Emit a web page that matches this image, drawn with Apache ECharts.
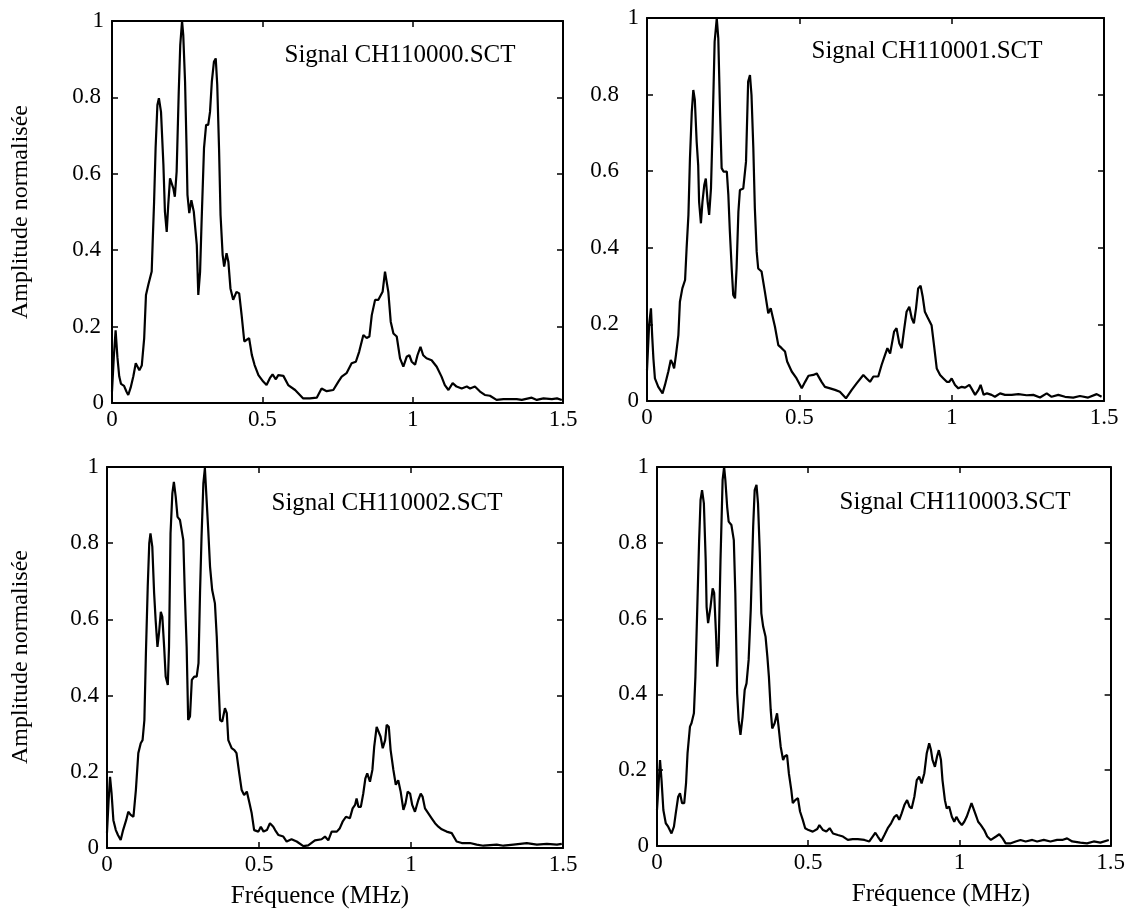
<!DOCTYPE html>
<html>
<head>
<meta charset="utf-8">
<script src="https://cdn.jsdelivr.net/npm/echarts@6/dist/echarts.min.js"></script>
<style>html,body{margin:0;padding:0;background:#fff}#c{width:1128px;height:910px}</style>
</head>
<body>
<div id="c"></div>
<script>
// ---- Data (frequency in MHz, normalised amplitude) ----
const titles = ['Signal CH110000.SCT','Signal CH110001.SCT','Signal CH110002.SCT','Signal CH110003.SCT'];
const xTicks = [0, 0.5, 1, 1.5];
const yTicks = [0, 0.2, 0.4, 0.6, 0.8, 1];
const yLabel = 'Amplitude normalisée';
const xLabel = 'Fréquence (MHz)';

const f1 = [0,0.006,0.012,0.018,0.024,0.030,0.040,0.048,0.054,0.062,0.071,0.079,0.085,0.091,0.099,0.107,0.113,0.121,0.132,0.135,0.140,0.145,0.151,0.156,0.163,0.171,0.176,0.182,0.187,0.193,0.198,0.204,0.209,0.215,0.222,0.227,0.233,0.237,0.243,0.248,0.251,0.257,0.264,0.272,0.282,0.287,0.293,0.298,0.306,0.313,0.320,0.326,0.332,0.339,0.345,0.350,0.356,0.361,0.368,0.373,0.381,0.387,0.394,0.403,0.414,0.423,0.431,0.440,0.446,0.456,0.465,0.474,0.487,0.503,0.514,0.525,0.534,0.545,0.553,0.570,0.586,0.609,0.636,0.658,0.681,0.697,0.714,0.736,0.753,0.764,0.780,0.797,0.811,0.822,0.836,0.847,0.856,0.864,0.875,0.886,0.892,0.900,0.908,0.913,0.919,0.927,0.936,0.947,0.958,0.969,0.980,0.989,0.997,1.008,1.016,1.026,1.035,1.046,1.063,1.080,1.096,1.107,1.119,1.133,1.146,1.163,1.180,1.191,1.207,1.224,1.240,1.257,1.279,1.302,1.346,1.363,1.396,1.413,1.435,1.463,1.480,1.496];
const a1 = [0.03,0.12,0.19,0.12,0.07,0.05,0.045,0.03,0.021,0.04,0.07,0.104,0.095,0.086,0.098,0.169,0.283,0.31,0.344,0.414,0.527,0.667,0.780,0.798,0.762,0.623,0.501,0.448,0.518,0.588,0.584,0.562,0.540,0.606,0.815,0.937,1.0,0.963,0.841,0.667,0.545,0.497,0.531,0.501,0.414,0.283,0.344,0.475,0.667,0.728,0.728,0.762,0.841,0.893,0.902,0.833,0.667,0.492,0.388,0.357,0.392,0.370,0.300,0.270,0.291,0.287,0.231,0.161,0.157,0.170,0.126,0.100,0.073,0.056,0.047,0.065,0.075,0.062,0.073,0.071,0.047,0.034,0.012,0.012,0.014,0.038,0.031,0.034,0.056,0.069,0.078,0.104,0.108,0.134,0.178,0.170,0.174,0.230,0.270,0.270,0.265,0.291,0.344,0.344,0.291,0.213,0.182,0.174,0.117,0.095,0.121,0.125,0.108,0.100,0.125,0.147,0.125,0.117,0.112,0.095,0.069,0.047,0.034,0.052,0.043,0.038,0.043,0.038,0.043,0.030,0.021,0.019,0.008,0.010,0.010,0.008,0.014,0.008,0.012,0.010,0.012,0.008];

const f2 = [0,0.007,0.013,0.017,0.021,0.026,0.037,0.051,0.059,0.070,0.078,0.084,0.089,0.095,0.103,0.108,0.116,0.125,0.130,0.136,0.141,0.147,0.152,0.157,0.163,0.168,0.171,0.177,0.182,0.188,0.193,0.199,0.204,0.210,0.215,0.222,0.229,0.234,0.240,0.245,0.251,0.262,0.267,0.272,0.278,0.283,0.289,0.294,0.300,0.305,0.316,0.325,0.332,0.338,0.343,0.349,0.354,0.360,0.365,0.376,0.387,0.398,0.406,0.412,0.420,0.431,0.442,0.453,0.460,0.475,0.491,0.508,0.519,0.530,0.546,0.557,0.573,0.584,0.601,0.617,0.633,0.653,0.672,0.688,0.710,0.721,0.732,0.743,0.759,0.770,0.781,0.789,0.798,0.803,0.811,0.819,0.828,0.836,0.843,0.852,0.861,0.869,0.876,0.883,0.890,0.898,0.905,0.912,0.920,0.934,0.942,0.951,0.962,0.973,0.984,0.992,1.000,1.011,1.022,1.033,1.044,1.058,1.065,1.077,1.088,1.095,1.105,1.116,1.131,1.142,1.159,1.175,1.197,1.219,1.246,1.268,1.290,1.312,1.328,1.350,1.372,1.399,1.421,1.448,1.476,1.492];
const a2 = [0.08,0.2,0.242,0.17,0.111,0.059,0.037,0.020,0.042,0.077,0.107,0.098,0.085,0.120,0.172,0.259,0.294,0.316,0.399,0.486,0.634,0.755,0.812,0.786,0.677,0.616,0.520,0.464,0.520,0.564,0.581,0.520,0.486,0.555,0.703,0.938,0.999,0.947,0.747,0.608,0.599,0.599,0.538,0.442,0.346,0.277,0.268,0.346,0.494,0.551,0.555,0.625,0.834,0.851,0.799,0.660,0.503,0.390,0.346,0.338,0.285,0.229,0.242,0.242,0.194,0.146,0.138,0.129,0.103,0.077,0.059,0.033,0.050,0.066,0.068,0.072,0.050,0.037,0.033,0.029,0.024,0.007,0.029,0.046,0.068,0.059,0.050,0.064,0.064,0.094,0.120,0.138,0.124,0.146,0.181,0.190,0.151,0.138,0.181,0.233,0.246,0.216,0.203,0.242,0.294,0.301,0.272,0.233,0.220,0.198,0.146,0.085,0.068,0.059,0.050,0.050,0.059,0.042,0.033,0.037,0.035,0.042,0.033,0.016,0.029,0.042,0.016,0.020,0.016,0.011,0.020,0.016,0.016,0.018,0.015,0.016,0.009,0.020,0.011,0.016,0.011,0.009,0.013,0.009,0.018,0.011];

const f3 = [0,0.005,0.010,0.015,0.021,0.029,0.036,0.045,0.053,0.063,0.070,0.078,0.087,0.095,0.103,0.111,0.117,0.123,0.128,0.134,0.139,0.143,0.149,0.155,0.160,0.166,0.171,0.177,0.182,0.188,0.193,0.200,0.204,0.209,0.215,0.220,0.226,0.232,0.240,0.245,0.251,0.256,0.262,0.267,0.273,0.279,0.287,0.295,0.301,0.306,0.311,0.317,0.322,0.328,0.333,0.339,0.346,0.355,0.361,0.366,0.372,0.379,0.388,0.394,0.399,0.410,0.419,0.426,0.435,0.443,0.451,0.460,0.469,0.476,0.484,0.498,0.506,0.515,0.526,0.536,0.547,0.553,0.564,0.580,0.591,0.607,0.624,0.646,0.662,0.684,0.706,0.717,0.728,0.739,0.756,0.766,0.775,0.786,0.799,0.808,0.816,0.821,0.827,0.835,0.843,0.850,0.856,0.865,0.873,0.879,0.887,0.893,0.900,0.907,0.915,0.920,0.927,0.933,0.942,0.950,0.958,0.966,0.975,0.982,0.989,0.997,1.004,1.013,1.024,1.032,1.038,1.046,1.057,1.068,1.079,1.090,1.101,1.117,1.134,1.150,1.167,1.194,1.216,1.238,1.282,1.304,1.337,1.381,1.414,1.447,1.480,1.496];
const a3 = [0.04,0.12,0.187,0.144,0.073,0.047,0.034,0.021,0.047,0.073,0.095,0.087,0.082,0.152,0.249,0.275,0.283,0.336,0.511,0.686,0.800,0.826,0.791,0.669,0.598,0.528,0.563,0.620,0.607,0.528,0.450,0.428,0.528,0.826,0.931,0.961,0.922,0.869,0.861,0.861,0.808,0.668,0.528,0.336,0.345,0.441,0.450,0.450,0.485,0.669,0.817,0.957,0.997,0.993,0.835,0.738,0.677,0.642,0.555,0.450,0.336,0.332,0.367,0.354,0.283,0.262,0.257,0.249,0.196,0.152,0.139,0.148,0.117,0.091,0.047,0.043,0.056,0.043,0.047,0.065,0.056,0.047,0.034,0.030,0.017,0.023,0.017,0.005,0.007,0.020,0.023,0.030,0.020,0.043,0.043,0.052,0.069,0.082,0.078,0.104,0.113,0.130,0.108,0.108,0.143,0.183,0.196,0.174,0.205,0.266,0.318,0.323,0.292,0.262,0.283,0.323,0.318,0.257,0.205,0.166,0.178,0.148,0.100,0.117,0.148,0.143,0.113,0.095,0.126,0.143,0.135,0.104,0.091,0.078,0.065,0.056,0.049,0.043,0.039,0.017,0.013,0.013,0.009,0.006,0.009,0.006,0.009,0.013,0.009,0.011,0.009,0.011];

const f4 = [0,0.005,0.010,0.015,0.021,0.029,0.037,0.048,0.056,0.062,0.070,0.076,0.083,0.090,0.096,0.101,0.109,0.114,0.122,0.127,0.133,0.139,0.144,0.149,0.155,0.161,0.164,0.169,0.177,0.184,0.189,0.195,0.199,0.204,0.210,0.217,0.222,0.226,0.232,0.237,0.246,0.254,0.259,0.265,0.270,0.276,0.283,0.290,0.296,0.303,0.310,0.318,0.323,0.329,0.334,0.340,0.345,0.351,0.359,0.365,0.370,0.376,0.381,0.389,0.397,0.402,0.409,0.417,0.422,0.430,0.436,0.444,0.449,0.457,0.466,0.473,0.482,0.490,0.501,0.515,0.521,0.530,0.537,0.549,0.560,0.571,0.582,0.598,0.615,0.631,0.647,0.664,0.686,0.702,0.713,0.722,0.730,0.741,0.752,0.763,0.774,0.785,0.793,0.801,0.809,0.818,0.827,0.835,0.842,0.851,0.859,0.867,0.875,0.884,0.892,0.900,0.906,0.911,0.919,0.926,0.932,0.939,0.944,0.952,0.958,0.966,0.975,0.983,0.990,0.999,1.008,1.016,1.024,1.032,1.040,1.046,1.054,1.062,1.071,1.082,1.092,1.104,1.121,1.132,1.143,1.153,1.170,1.186,1.202,1.219,1.241,1.257,1.279,1.301,1.323,1.340,1.356,1.373,1.400,1.422,1.444,1.466,1.494];
const a4 = [0.095,0.16,0.227,0.174,0.095,0.060,0.051,0.033,0.051,0.086,0.130,0.139,0.113,0.113,0.165,0.245,0.315,0.324,0.350,0.447,0.623,0.799,0.913,0.939,0.904,0.755,0.631,0.588,0.631,0.680,0.668,0.561,0.473,0.526,0.755,0.966,1.0,0.966,0.895,0.856,0.847,0.807,0.667,0.403,0.332,0.293,0.341,0.412,0.429,0.491,0.623,0.843,0.939,0.953,0.904,0.772,0.614,0.579,0.552,0.499,0.447,0.359,0.310,0.324,0.350,0.315,0.262,0.227,0.236,0.240,0.192,0.148,0.113,0.121,0.126,0.091,0.069,0.047,0.042,0.038,0.036,0.045,0.055,0.042,0.038,0.047,0.033,0.029,0.025,0.016,0.018,0.018,0.016,0.012,0.025,0.035,0.025,0.012,0.029,0.047,0.060,0.077,0.082,0.069,0.086,0.108,0.121,0.104,0.099,0.130,0.174,0.183,0.165,0.192,0.245,0.271,0.253,0.227,0.209,0.236,0.253,0.227,0.174,0.121,0.099,0.104,0.077,0.064,0.077,0.064,0.055,0.064,0.077,0.095,0.113,0.108,0.082,0.064,0.055,0.042,0.025,0.016,0.025,0.031,0.020,0.007,0.007,0.012,0.016,0.012,0.016,0.012,0.016,0.012,0.016,0.016,0.020,0.012,0.009,0.007,0.012,0.009,0.016];

const freqs = [f1, f2, f3, f4];
const amps = [a1, a2, a3, a4];

// ---- Layout ----
const grids = [
  {left: 112, top: 21, width: 451, height: 382},
  {left: 647, top: 18, width: 457, height: 383},
  {left: 107, top: 467, width: 456, height: 381},
  {left: 657, top: 467, width: 455, height: 379}
];
// extra right padding for fractional y labels (the upper-right panel sets them further left)
const decPad = [3, 20, 0, 2];
const FONT = '"Liberation Serif", "Times New Roman", serif';
const lineStyle = {color: '#000', width: 2};

const xAxes = [], yAxes = [], series = [];
grids.forEach((g, i) => {
  const tick = {show: true, inside: true, length: 6, lineStyle: {color: '#000', width: 1.5}};
  const base = {
    type: 'value', gridIndex: i, splitLine: {show: false},
    axisLine: {show: true, onZero: false, lineStyle: lineStyle}, axisTick: tick
  };
  xAxes.push(Object.assign({}, base, {
    position: 'bottom', min: xTicks[0], max: xTicks[xTicks.length - 1], interval: 0.5,
    axisLabel: {color: '#000', fontFamily: FONT, fontSize: 23, margin: 5}
  }));
  xAxes.push(Object.assign({}, base, {
    position: 'top', min: xTicks[0], max: xTicks[xTicks.length - 1], interval: 0.5,
    axisLabel: {show: false}
  }));
  yAxes.push(Object.assign({}, base, {
    position: 'left', min: yTicks[0], max: yTicks[yTicks.length - 1], interval: 0.2,
    axisLabel: {
      color: '#000', fontFamily: FONT, fontSize: 23, margin: 8,
      formatter: v => (Number.isInteger(v) ? '{i|' + v + '}' : '{d|' + v + '}'),
      rich: {
        i: {color: '#000', fontFamily: FONT, fontSize: 23},
        d: {color: '#000', fontFamily: FONT, fontSize: 23, padding: [0, decPad[i], 0, 0]}
      }
    }
  }));
  yAxes.push(Object.assign({}, base, {
    position: 'right', min: yTicks[0], max: yTicks[yTicks.length - 1], interval: 0.2,
    axisLabel: {show: false}
  }));
  series.push({
    type: 'line', xAxisIndex: i * 2, yAxisIndex: i * 2, showSymbol: false, symbol: 'none',
    lineStyle: {color: '#000', width: 2.2}, animation: false, clip: true,
    data: freqs[i].map((f, k) => [f, amps[i][k]])
  });
});

function txt(x, y, s, size, rot) {
  return {
    type: 'text', x: x, y: y, rotation: rot || 0,
    style: {text: s, fill: '#000', font: size + 'px ' + FONT, textAlign: 'center', textVerticalAlign: 'middle'}
  };
}

const graphics = [
  txt(400, 55, titles[0], 25),
  txt(927, 51, titles[1], 25),
  txt(387, 503, titles[2], 25),
  txt(955, 502, titles[3], 25),
  txt(21, 212, yLabel, 24, Math.PI / 2),
  txt(21, 657, yLabel, 24, Math.PI / 2),
  txt(320, 896, xLabel, 25),
  txt(941, 894, xLabel, 25)
];

const chart = echarts.init(document.getElementById('c'), null, {renderer: 'canvas'});
chart.setOption({
  animation: false,
  backgroundColor: '#fff',
  grid: grids.map(g => Object.assign({containLabel: false}, g)),
  xAxis: xAxes,
  yAxis: yAxes,
  series: series,
  graphic: graphics
});
</script>
</body>
</html>
